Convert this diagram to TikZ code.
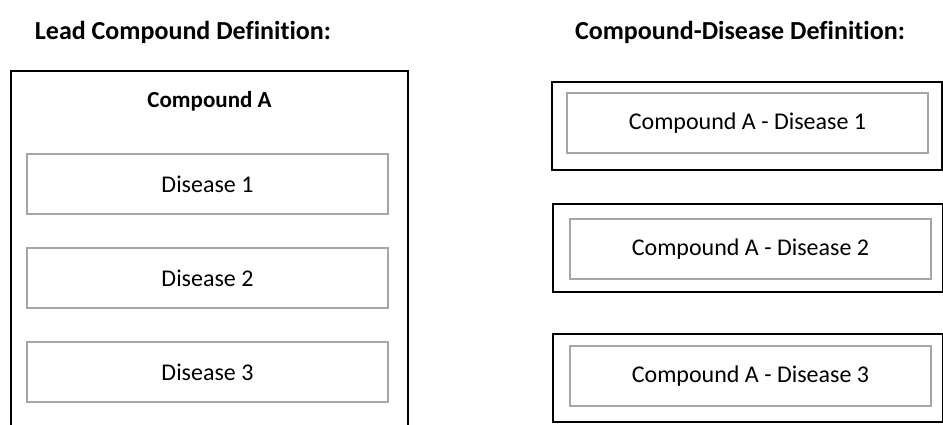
\documentclass[tikz,border=0pt]{standalone}
\usepackage{fontspec}
\setmainfont{Carlito}[Ligatures=NoCommon]
\usetikzlibrary{positioning}
\tikzset{
x=1pt, y=-1pt, % one unit is one pixel of the layout, y runs downwards
node distance=32pt, % gap between the stacked disease boxes
title/.style={font=\fontsize{26}{30}\selectfont\bfseries}, % headings above the two halves
outerbox/.style={draw=black, line width=2pt, minimum width=390pt, minimum height=88pt}, % black frame
innerbox/.style={draw=black!35, line width=2pt, fill=white, minimum width=361pt, minimum height=60pt, font=\fontsize{24}{28}\selectfont}, % gray box with text
}
\begin{document}
\begin{tikzpicture}
\useasboundingbox (0,0) rectangle (943,425);
% headings
\node[title] (leadtitle) at (183,32) {Lead Compound Definition:};
\node[title] (pairtitle) at (740,32) {Compound-Disease Definition:};
% left: one compound holding all its diseases
\coordinate (lbl) at (11,425);
\coordinate (ltl) at (11,71);
\coordinate (ltr) at (408,71);
\coordinate (lbr) at (408,425);
\draw[line width=2pt] (lbl) -- (ltl) -- (ltr) -- (lbr);
\node[font=\fontsize{23}{27}\selectfont\bfseries] (compound) at (209.5,101) {Compound A};
\node[innerbox] (dis1) at (207.5,184) {Disease 1};
\node[innerbox, below=of dis1] (dis2) {Disease 2};
\node[innerbox, below=of dis2] (dis3) {Disease 3};
% right: one frame per compound-disease pair
\node[outerbox] (pair1) at (747,126) {};
\node[innerbox] (pairin1) at (747.5,123) {Compound A - Disease 1};
\node[outerbox] (pair2) at (747.5,248) {};
\node[innerbox] (pairin2) at (750.5,249) {Compound A - Disease 2};
\node[outerbox] (pair3) at (747.5,378) {};
\node[innerbox] (pairin3) at (750.5,376) {Compound A - Disease 3};
\end{tikzpicture}
\end{document}
